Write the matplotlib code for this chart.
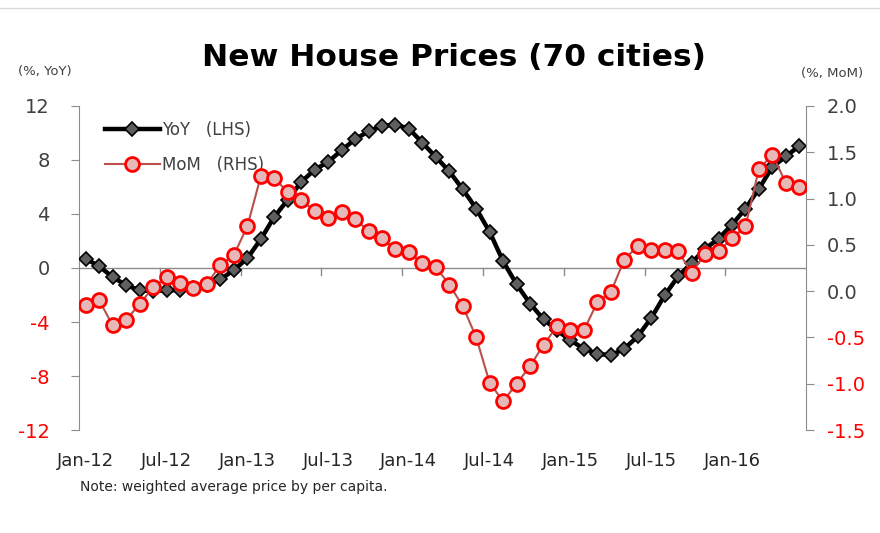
#Import Modules
import matplotlib
matplotlib.use("Agg")
import matplotlib.pyplot as plt
from matplotlib.lines import Line2D

plt.rcParams["font.family"] = ["DejaVu Sans", "Noto Sans CJK JP"]
plt.rcParams["axes.unicode_minus"] = False

#Data (monthly, Jan-12 to Jun-16)
months = ["Jan-12", "Feb-12", "Mar-12", "Apr-12", "May-12", "Jun-12", "Jul-12", "Aug-12", "Sep-12", "Oct-12", "Nov-12", "Dec-12",
          "Jan-13", "Feb-13", "Mar-13", "Apr-13", "May-13", "Jun-13", "Jul-13", "Aug-13", "Sep-13", "Oct-13", "Nov-13", "Dec-13",
          "Jan-14", "Feb-14", "Mar-14", "Apr-14", "May-14", "Jun-14", "Jul-14", "Aug-14", "Sep-14", "Oct-14", "Nov-14", "Dec-14",
          "Jan-15", "Feb-15", "Mar-15", "Apr-15", "May-15", "Jun-15", "Jul-15", "Aug-15", "Sep-15", "Oct-15", "Nov-15", "Dec-15",
          "Jan-16", "Feb-16", "Mar-16", "Apr-16", "May-16", "Jun-16"]

yoy = [0.69, 0.12, -0.67, -1.28, -1.65, -1.70, -1.65, -1.65, -1.50, -1.25, -0.85, -0.15,
       0.72, 2.13, 3.78, 5.05, 6.37, 7.28, 7.85, 8.72, 9.53, 10.12, 10.52, 10.62,
       10.32, 9.28, 8.22, 7.16, 5.83, 4.40, 2.67, 0.49, -1.21, -2.64, -3.80, -4.62,
       -5.36, -5.98, -6.35, -6.47, -5.98, -5.06, -3.70, -2.02, -0.62, 0.37, 1.43, 2.17,
       3.21, 4.40, 5.88, 7.48, 8.27, 9.04]

mom = [-0.15, -0.10, -0.37, -0.31, -0.14, 0.04, 0.15, 0.09, 0.03, 0.08, 0.28, 0.39,
       0.70, 1.24, 1.22, 1.07, 0.98, 0.87, 0.79, 0.85, 0.78, 0.65, 0.57, 0.45,
       0.42, 0.30, 0.26, 0.07, -0.16, -0.50, -0.99, -1.19, -1.00, -0.81, -0.58, -0.38,
       -0.42, -0.42, -0.12, -0.01, 0.34, 0.49, 0.44, 0.44, 0.43, 0.20, 0.40, 0.43,
       0.57, 0.70, 1.32, 1.47, 1.17, 1.13]

left_ticks = [-12, -8, -4, 0, 4, 8, 12]
right_ticks = [-1.5, -1.0, -0.5, 0.0, 0.5, 1.0, 1.5, 2.0]
label_months = ["Jan-12", "Jul-12", "Jan-13", "Jul-13", "Jan-14", "Jul-14", "Jan-15", "Jul-15", "Jan-16"]

axis_grey = "#8c8c8c"
text_grey = "#404040"

#Figure
fig = plt.figure(figsize=(8.8, 5.33), dpi=100)
ax = fig.add_axes([0.0898, 0.1932, 0.8262, 0.608])
ax2 = ax.twinx()

x = list(range(len(months)))

#YoY on left axis
ax.plot(x, yoy, color="black", linewidth=3.2, marker="D", markersize=7,
        markerfacecolor="#5f5f5f", markeredgecolor="black", markeredgewidth=1.2,
        label="YoY   (LHS)", zorder=3)

#MoM on right axis
ax2.plot(x, mom, color="#b9504c", linewidth=1.5, marker="o", markersize=10,
         markerfacecolor="#e6b9b8", markeredgecolor="#ff0000", markeredgewidth=2,
         label="MoM   (RHS)", zorder=3)

#Axis limits
ax.set_xlim(-0.5, len(months) - 0.5)
ax.set_ylim(-12, 12)
ax2.set_ylim(-1.5, 2.0)

#Spines
for a in [ax, ax2]:
    a.spines["top"].set_visible(False)
    a.spines["bottom"].set_visible(False)
    a.spines["left"].set_color(axis_grey)
    a.spines["right"].set_color(axis_grey)
ax.spines["right"].set_visible(False)
ax2.spines["left"].set_visible(False)

#Zero line with tick marks every six months
ax.axhline(0, color=axis_grey, linewidth=1, zorder=1)
for b in range(5, len(months) - 1, 6):
    ax.plot([b + 0.5, b + 0.5], [0, -0.5], color=axis_grey, linewidth=1, zorder=1)
ax.set_xticks([])

#Left y ticks (negatives in red)
ax.set_yticks(left_ticks)
ax.set_yticklabels([str(t) for t in left_ticks], fontsize=14)
ax.tick_params(axis="y", direction="out", length=6, color=axis_grey, pad=15)
for lbl, t in zip(ax.get_yticklabels(), left_ticks):
    lbl.set_color("#ff0000" if t < 0 else text_grey)

#Right y ticks (negatives in red)
ax2.set_yticks(right_ticks)
ax2.set_yticklabels([f"{t:.1f}" for t in right_ticks], fontsize=14)
ax2.tick_params(axis="y", direction="out", length=6, color=axis_grey, pad=9)
for lbl, t in zip(ax2.get_yticklabels(), right_ticks):
    lbl.set_color("#ff0000" if t < 0 else text_grey)

#Month labels along the bottom
for m in label_months:
    ax.text(months.index(m), -0.095, m, transform=ax.get_xaxis_transform(),
            ha="center", va="center", fontsize=13, color="#262626")

#Legend
handles = ax.get_lines()[:1] + ax2.get_lines()[:1]
ax.legend(handles, [h.get_label() for h in handles], loc="upper left",
          bbox_to_anchor=(0.015, 1.0), frameon=False, fontsize=12,
          handlelength=3.3, handletextpad=0.1, labelspacing=1.0,
          labelcolor="#404040")

#Titles and notes
fig.text(0.516, 0.893, "New House Prices (70 cities)", ha="center", va="center",
         fontsize=22.5, fontweight="bold", color="black")
fig.text(0.051, 0.865, "(%, YoY)", ha="center", va="center", fontsize=9.5, color=text_grey)
fig.text(0.945, 0.862, "(%, MoM)", ha="center", va="center", fontsize=9.5, color=text_grey)
fig.text(0.091, 0.087, "Note: weighted average price by per capita.", ha="left", va="center",
         fontsize=10, color="#262626")

#Thin frame line at top
fig.add_artist(Line2D([0, 1], [0.985, 0.985], transform=fig.transFigure, color="#d9d9d9", linewidth=1))

plt.savefig("out.png", dpi=100)
